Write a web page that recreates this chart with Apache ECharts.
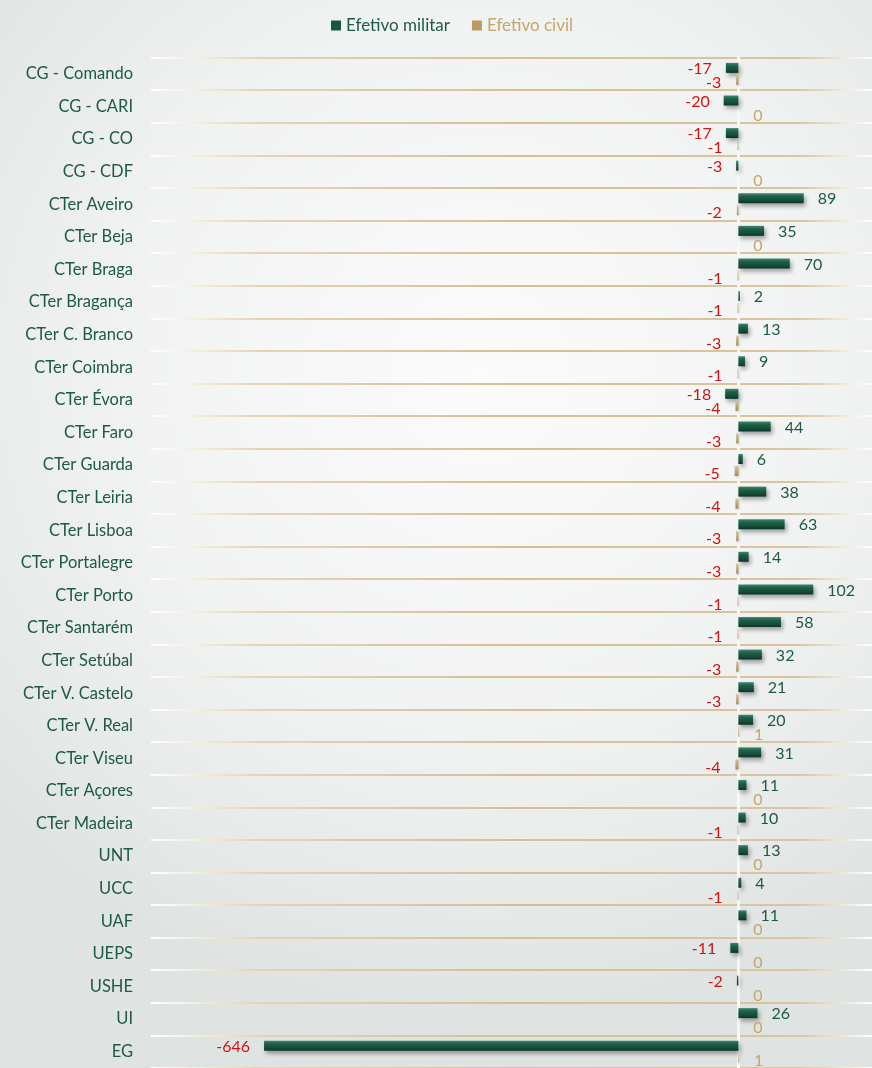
<!DOCTYPE html>
<html>
<head>
<meta charset="utf-8">
<script src="https://cdn.jsdelivr.net/npm/echarts@6/dist/echarts.min.js"></script>
<style>
  html, body { margin: 0; padding: 0; }
  body {
    width: 872px; height: 1068px; overflow: hidden;
    background: radial-gradient(ellipse 75% 60% at 55% 35%, #fbfbfb 0%, #f1f3f2 55%, #dfe4e2 100%);
  }
  #chart { width: 872px; height: 1068px; }
</style>
</head>
<body>
<div id="chart"></div>
<script>
var categories = [
  "CG - Comando", "CG - CARI", "CG - CO", "CG - CDF", "CTer Aveiro", "CTer Beja",
  "CTer Braga", "CTer Bragança", "CTer C. Branco", "CTer Coimbra", "CTer Évora",
  "CTer Faro", "CTer Guarda", "CTer Leiria", "CTer Lisboa", "CTer Portalegre",
  "CTer Porto", "CTer Santarém", "CTer Setúbal", "CTer V. Castelo", "CTer V. Real",
  "CTer Viseu", "CTer Açores", "CTer Madeira", "UNT", "UCC", "UAF", "UEPS", "USHE",
  "UI", "EG"
];
var militar = [-17, -20, -17, -3, 89, 35, 70, 2, 13, 9, -18, 44, 6, 38, 63, 14, 102,
  58, 32, 21, 20, 31, 11, 10, 13, 4, 11, -11, -2, 26, -646];
var civil = [-3, 0, -1, 0, -2, 0, -1, -1, -3, -1, -4, -3, -5, -4, -3, -3, -1, -1, -3,
  -3, 1, -4, 0, -1, 0, -1, 0, 0, 0, 0, 1];

var GREEN = "#1d5a43";
var TAN = "#c4a56c";
var RED = "#d01414";
var FONT = "Lato";

var greenFill = new echarts.graphic.LinearGradient(0, 0, 0, 1, [
  { offset: 0, color: "#3f8a6d" },
  { offset: 0.3, color: "#1f6048" },
  { offset: 0.75, color: "#144a36" },
  { offset: 1, color: "#0b3426" }
]);
var tanFill = new echarts.graphic.LinearGradient(0, 0, 0, 1, [
  { offset: 0, color: "#d9c28f" },
  { offset: 1, color: "#a68a55" }
]);

function makeData(values, posColor, isCivil) {
  return values.map(function (v) {
    var neg = v < 0;
    return {
      value: v,
      label: {
        position: neg ? "left" : "right",
        color: neg ? RED : posColor,
        offset: isCivil ? [0, 3] : [0, 1]
      }
    };
  });
}

var chart = echarts.init(document.getElementById("chart"));
chart.setOption({
  animation: false,
  backgroundColor: "transparent",
  textStyle: { fontFamily: FONT },
  legend: {
    top: 12,
    left: 326,
    itemWidth: 10,
    itemHeight: 10,
    itemGap: 22,
    icon: "rect",
    textStyle: { fontSize: 17, fontFamily: FONT },
    data: [
      { name: "Efetivo militar", textStyle: { color: GREEN }, itemStyle: { color: "#1a5540" } },
      { name: "Efetivo civil", textStyle: { color: TAN }, itemStyle: { color: "#b89c62" } }
    ]
  },
  grid: { left: 151, right: 0, top: 57.6, bottom: -3.3, containLabel: false },
  xAxis: {
    type: "value",
    min: -800,
    max: 182,
    show: false
  },
  yAxis: {
    type: "category",
    inverse: true,
    data: categories,
    axisTick: { show: false },
    axisLine: { show: true, onZero: true, lineStyle: { color: "#f6f7f7", width: 3 } },
    axisLabel: { color: GREEN, fontSize: 16.5, fontFamily: FONT, margin: 18 },
    splitLine: {
      show: true,
      lineStyle: {
        width: 2,
        color: new echarts.graphic.LinearGradient(151, 0, 872, 0, [
          { offset: 0, color: "#ffffff" },
          { offset: 0.15, color: "#e5d4b4" },
          { offset: 0.5, color: "#d6bf95" },
          { offset: 0.9, color: "#dac59f" },
          { offset: 1, color: "#ffffff" }
        ], true)
      }
    }
  },
  series: [
    {
      name: "Efetivo militar",
      type: "bar",
      barWidth: 10,
      barGap: "20%",
      data: makeData(militar, GREEN, false),
      itemStyle: {
        color: greenFill,
        shadowColor: "rgba(0,0,0,0.35)",
        shadowBlur: 4,
        shadowOffsetX: 2,
        shadowOffsetY: 3
      },
      label: { show: true, fontSize: 16, fontFamily: FONT, distance: 14 }
    },
    {
      name: "Efetivo civil",
      type: "bar",
      barWidth: 10,
      data: makeData(civil, TAN, true),
      itemStyle: {
        color: tanFill,
        shadowColor: "rgba(0,0,0,0.2)",
        shadowBlur: 2,
        shadowOffsetX: 1,
        shadowOffsetY: 1
      },
      label: { show: true, fontSize: 16, fontFamily: FONT, distance: 15 }
    }
  ]
});
</script>
</body>
</html>
